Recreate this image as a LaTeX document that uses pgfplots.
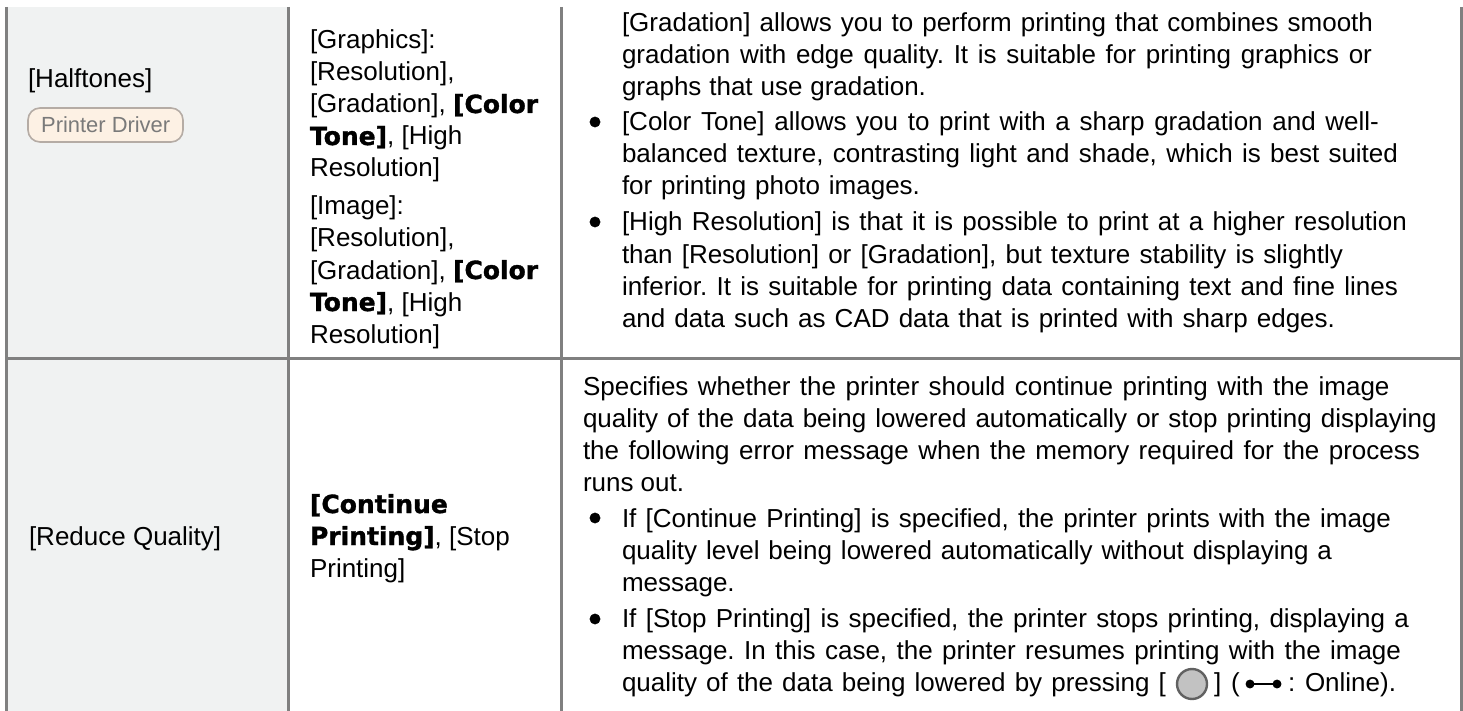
\documentclass[border=0pt]{standalone}
\usepackage{pgfplots}
\pgfplotsset{compat=1.18}
\usepackage{fontspec}
\setmainfont{Liberation Sans}
\newfontfamily\blackfont[FakeBold=1.3]{DejaVu Sans Bold}
\frenchspacing
\definecolor{rule}{HTML}{808080}
\definecolor{cell}{HTML}{F0F2F2}
\definecolor{btnfill}{HTML}{FDF1E4}
\definecolor{btnedge}{HTML}{B5ACA5}
\definecolor{btntext}{HTML}{7A7A7A}
\newcommand{\bk}[1]{{\blackfont\fontsize{25}{32}\selectfont #1}}
% #1 x, #2 baseline y, #3 text
\newcommand{\tl}[3]{\node[anchor=base west,inner sep=0pt,outer sep=0pt,text=black] at (axis cs:#1,#2) {\fontsize{26}{32}\selectfont\frenchspacing #3};}
% #1 x, #2 baseline y, #3 width, #4 text stretched to this width
\newcommand{\tw}[4]{\node[anchor=base west,inner sep=0pt,outer sep=0pt,text=black] at (axis cs:#1,#2) {\fontsize{26}{32}\selectfont\frenchspacing\makebox[#3pt][s]{#4}};}
\begin{document}
\begin{tikzpicture}
\begin{axis}[scale only axis,width=1463pt,height=711pt,xmin=0,xmax=1463,ymin=0,ymax=711,y dir=reverse,hide axis,clip=true]
% first-column cell fill
\addplot[draw=none,fill=cell] coordinates {(7,7) (288,7) (288,711) (7,711)} --cycle;
% table rules
\addplot[rule,line width=3pt] coordinates {(6.7,7) (6.7,711)};
\addplot[rule,line width=3pt] coordinates {(288.3,7) (288.3,711)};
\addplot[rule,line width=3pt] coordinates {(561.2,7) (561.2,711)};
\addplot[rule,line width=3pt] coordinates {(1461.5,7) (1461.5,711)};
\addplot[rule,line width=3.2pt] coordinates {(6,358.3) (1463,358.3)};
% bullets
\addplot[only marks,mark=*,mark size=5.2pt,black] coordinates {(595,122) (595,222) (595,518) (595,619)};
% Column 1
\tl{28}{88}{[Halftones]}
\node[draw=btnedge,line width=1.6pt,fill=btnfill,rounded corners=12pt,minimum width=155pt,minimum height=34pt,inner sep=0pt] at (axis cs:105.5,125) {};
\node[anchor=base west,inner sep=0pt,text=btntext] at (axis cs:41,133) {\fontsize{21.9}{26}\selectfont Printer Driver};
\tl{29}{545}{[Reduce Quality]}
% Column 2
\tl{310}{49}{[Graphics]:}
\tl{310}{81}{[Resolution],}
\tl{310}{113}{[Gradation], \bk{[Color}}
\tl{310}{145}{\bk{Tone]}, [High}
\tl{310}{177}{Resolution]}
\tl{310}{215}{[Image]:}
\tl{310}{247}{[Resolution],}
\tl{310}{279}{[Gradation], \bk{[Color}}
\tl{310}{311}{\bk{Tone]}, [High}
\tl{310}{343}{Resolution]}
\tl{310}{513}{\bk{[Continue}}
\tl{310}{545}{\bk{Printing]}, [Stop}
\tl{310}{577}{Printing]}
% Column 3, row 1
\tw{622}{32}{751}{[Gradation] allows you to perform printing that combines smooth}
\tw{622}{64}{750}{gradation with edge quality. It is suitable for printing graphics or}
\tw{622}{96}{304}{graphs that use gradation.}
\tw{622}{131}{757}{[Color Tone] allows you to print with a sharp gradation and well-}
\tw{622}{163}{776}{balanced texture, contrasting light and shade, which is best suited}
\tw{622}{195}{298}{for printing photo images.}
\tw{622}{231}{785}{[High Resolution] is that it is possible to print at a higher resolution}
\tw{622}{263}{721}{than [Resolution] or [Gradation], but texture stability is slightly}
\tw{622}{295}{776}{inferior. It is suitable for printing data containing text and fine lines}
\tw{622}{327}{713}{and data such as CAD data that is printed with sharp edges.}
% Column 3, row 2
\tw{583}{395}{806.6}{Specifies whether the printer should continue printing with the image}
\tw{583}{427}{853.7}{quality of the data being lowered automatically or stop printing displaying}
\tw{583}{459}{837}{the following error message when the memory required for the process}
\tw{583}{491}{101}{runs out.}
\tw{622}{527}{769}{If [Continue Printing] is specified, the printer prints with the image}
\tw{622}{559}{710}{quality level being lowered automatically without displaying a}
\tl{622}{591}{message.}
\tw{622}{627}{787}{If [Stop Printing] is specified, the printer stops printing, displaying a}
\tw{622}{659}{779}{message. In this case, the printer resumes printing with the image}
\tw{622}{691}{544}{quality of the data being lowered by pressing [}
\tl{1214}{691}{]}
\tl{1231}{691}{(}
\tl{1288}{691}{:}
\tl{1305}{691}{Online).}
% power/online icons
\addplot[only marks,mark=*,mark size=15pt,mark options={fill=black!24,draw=black!62,line width=2.4pt}] coordinates {(1192,684)};
\addplot[black,line width=1.6pt,mark=*,mark size=3.6pt] coordinates {(1250,684) (1277,684)};
\end{axis}
\pgfresetboundingbox
\path[use as bounding box] (0,0) rectangle (1463pt,711pt);
\end{tikzpicture}
\end{document}
